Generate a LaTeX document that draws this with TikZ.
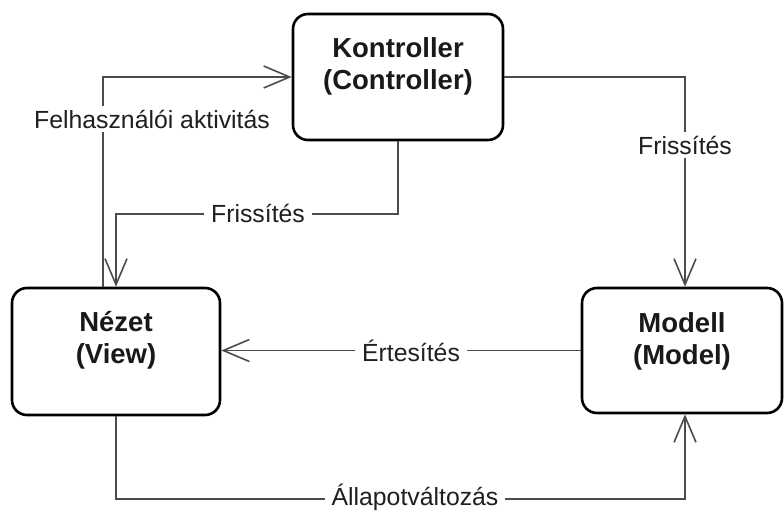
\documentclass[tikz,border=0pt]{standalone}
\usepackage{fontspec}
\setmainfont{Liberation Sans}
\usetikzlibrary{arrows.meta}
\begin{document}
\begin{tikzpicture}[x=1pt,y=-1pt,
  box/.style={draw=black,line width=2.6pt,rounded corners=15pt,fill=white},
  boxtext/.style={font=\fontsize{27.5}{32}\selectfont\bfseries,align=center,text=black!90},
  flow/.style={draw=black!70,line width=1.8pt,
    -{Straight Barb[length=26pt,width=22pt,line width=1.6pt]}},
  edgelabel/.style={font=\fontsize{24.8}{28}\selectfont,fill=white,text=black!88,
    inner xsep=7pt,inner ysep=4pt}]
\useasboundingbox (0,0) rectangle (784,511);
% the three components
\node[box,minimum width=210pt,minimum height=126pt] (ctrl) at (398,77) {};
\node[box,minimum width=208pt,minimum height=127pt] (view) at (116,351.5) {};
\node[box,minimum width=200pt,minimum height=125pt] (model) at (682,350.5) {};
\node[boxtext] (ctrltxt) at (398,66) {Kontroller\\(Controller)};
\node[boxtext] (viewtxt) at (116,340) {Nézet\\(View)};
\node[boxtext] (modeltxt) at (682,341) {Modell\\(Model)};
% connectors
\draw[flow] ([xshift=-13pt]view.north) |- (ctrl.west);
\draw[flow] (ctrl.south) -- ++(0,73) -| (view.north);
\draw[flow] (ctrl.east) -| ([xshift=3pt]model.north);
\draw[flow] (model.west) -- (model.west -| view.east);
\draw[flow] (view.south) -- ++(0,83) -| ([xshift=3pt]model.south);
% connector labels
\node[edgelabel] (lact) at (152,119) {Felhasználói aktivitás};
\node[edgelabel] (lupd1) at (258,213) {Frissítés};
\node[edgelabel] (lupd2) at (685,145) {Frissítés};
\node[edgelabel] (lnote) at (411,351) {Értesítés};
\node[edgelabel] (lstate) at (415,497) {Állapotváltozás};
\end{tikzpicture}
\end{document}
